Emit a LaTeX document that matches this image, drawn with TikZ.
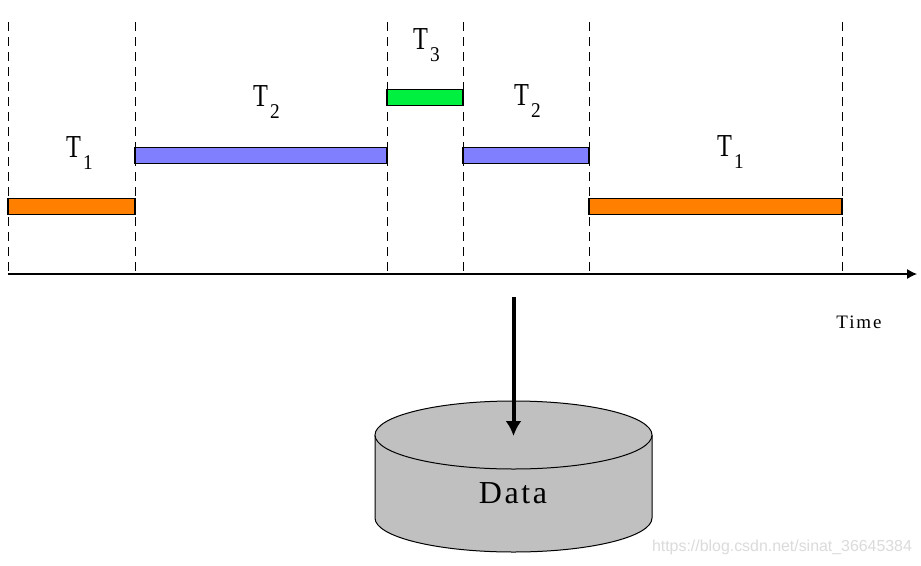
\documentclass[tikz,border=0pt]{standalone}
\usepackage{fontspec}
\usetikzlibrary{arrows.meta}
\setmainfont{Liberation Serif}
\newfontfamily\tfont[FakeStretch=0.76]{Liberation Serif}
\newfontfamily\subfont[FakeStretch=0.92]{Liberation Serif}
\newfontfamily\dfont[LetterSpace=8]{Liberation Serif}
\newfontfamily\timefont[LetterSpace=10]{Liberation Serif}
\newfontfamily\wfont{Liberation Sans}
\definecolor{barorange}{HTML}{FF8000}
\definecolor{barblue}{HTML}{8080FF}
\definecolor{bargreen}{HTML}{00F040}
\definecolor{cylgray}{HTML}{C0C0C0}
\newcommand{\tlabel}[1]{{\tfont\fontsize{32}{32}\selectfont T}\hspace{2pt}\raisebox{-12pt}{\subfont\fontsize{21}{21}\selectfont #1}}
\tikzset{
  x=1pt,y=-1pt,
  divider/.style={draw=black,line width=1pt,dash pattern=on 9pt off 6pt},
  bar/.style={draw=black,line width=1.2pt,minimum height=15.5pt,inner sep=0pt,outer sep=0pt},
  tl/.style={inner sep=0pt,anchor=base west},
  cyl/.style={draw=black,line width=1pt,fill=cylgray},
}
\begin{document}
\begin{tikzpicture}
\useasboundingbox (0,0) rectangle (921,565);
\fill[white] (0,0) rectangle (921,565);
% dividers
\foreach \n/\xx in {a/8,b/135,c/387,d/463,e/589,f/842}{
  \coordinate (\n top) at (\xx,22);
  \coordinate (\n bot) at (\xx,274);
  \path[divider] (\n top) -- (\n bot);
}
% bars
\node[bar,fill=barorange,minimum width=127pt] (b1) at (71.5,206.5) {};
\node[bar,fill=barblue,minimum width=252pt] (b2) at (261,155.5) {};
\node[bar,fill=bargreen,minimum width=76pt] (b3) at (425,97.5) {};
\node[bar,fill=barblue,minimum width=126pt] (b4) at (526,155.5) {};
\node[bar,fill=barorange,minimum width=253pt] (b5) at (715.5,206.5) {};
% labels
\node[tl] (t1) at (66,157) {\tlabel{1}};
\node[tl] (t2) at (253,106) {\tlabel{2}};
\node[tl] (t3) at (413,49) {\tlabel{3}};
\node[tl] (t4) at (514,105) {\tlabel{2}};
\node[tl] (t5) at (717,156) {\tlabel{1}};
% axis
\coordinate (axis start) at (8,274);
\coordinate (axis end) at (917,274);
\draw[line width=1.1pt,-{Latex[length=10pt,width=10pt]}] (axis start) -- (axis end);
\node[inner sep=0pt] (time) at (859,322) {\timefont\fontsize{19}{19}\selectfont Time};
% cylinder
\path[cyl] (375,435) -- (375,518) arc[start angle=180,end angle=360,x radius=138.5,y radius=-34] -- (652,435);
\path[cyl] (513.5,435) ellipse[x radius=138.5,y radius=34];
\node[inner sep=0pt] (data) at (513,493) {\dfont\fontsize{32}{32}\selectfont Data};
% arrow
\coordinate (src) at (513.5,297);
\coordinate (dst) at (513.5,436);
\draw[line width=4pt,-{Latex[length=15pt,width=16pt]}] (src) -- (dst);
% watermark
\node[inner sep=0pt,text=black!14] (wm) at (782,547) {\wfont\fontsize{15.9}{16}\selectfont https://blog.csdn.net/sinat\_36645384};
\end{tikzpicture}
\end{document}
